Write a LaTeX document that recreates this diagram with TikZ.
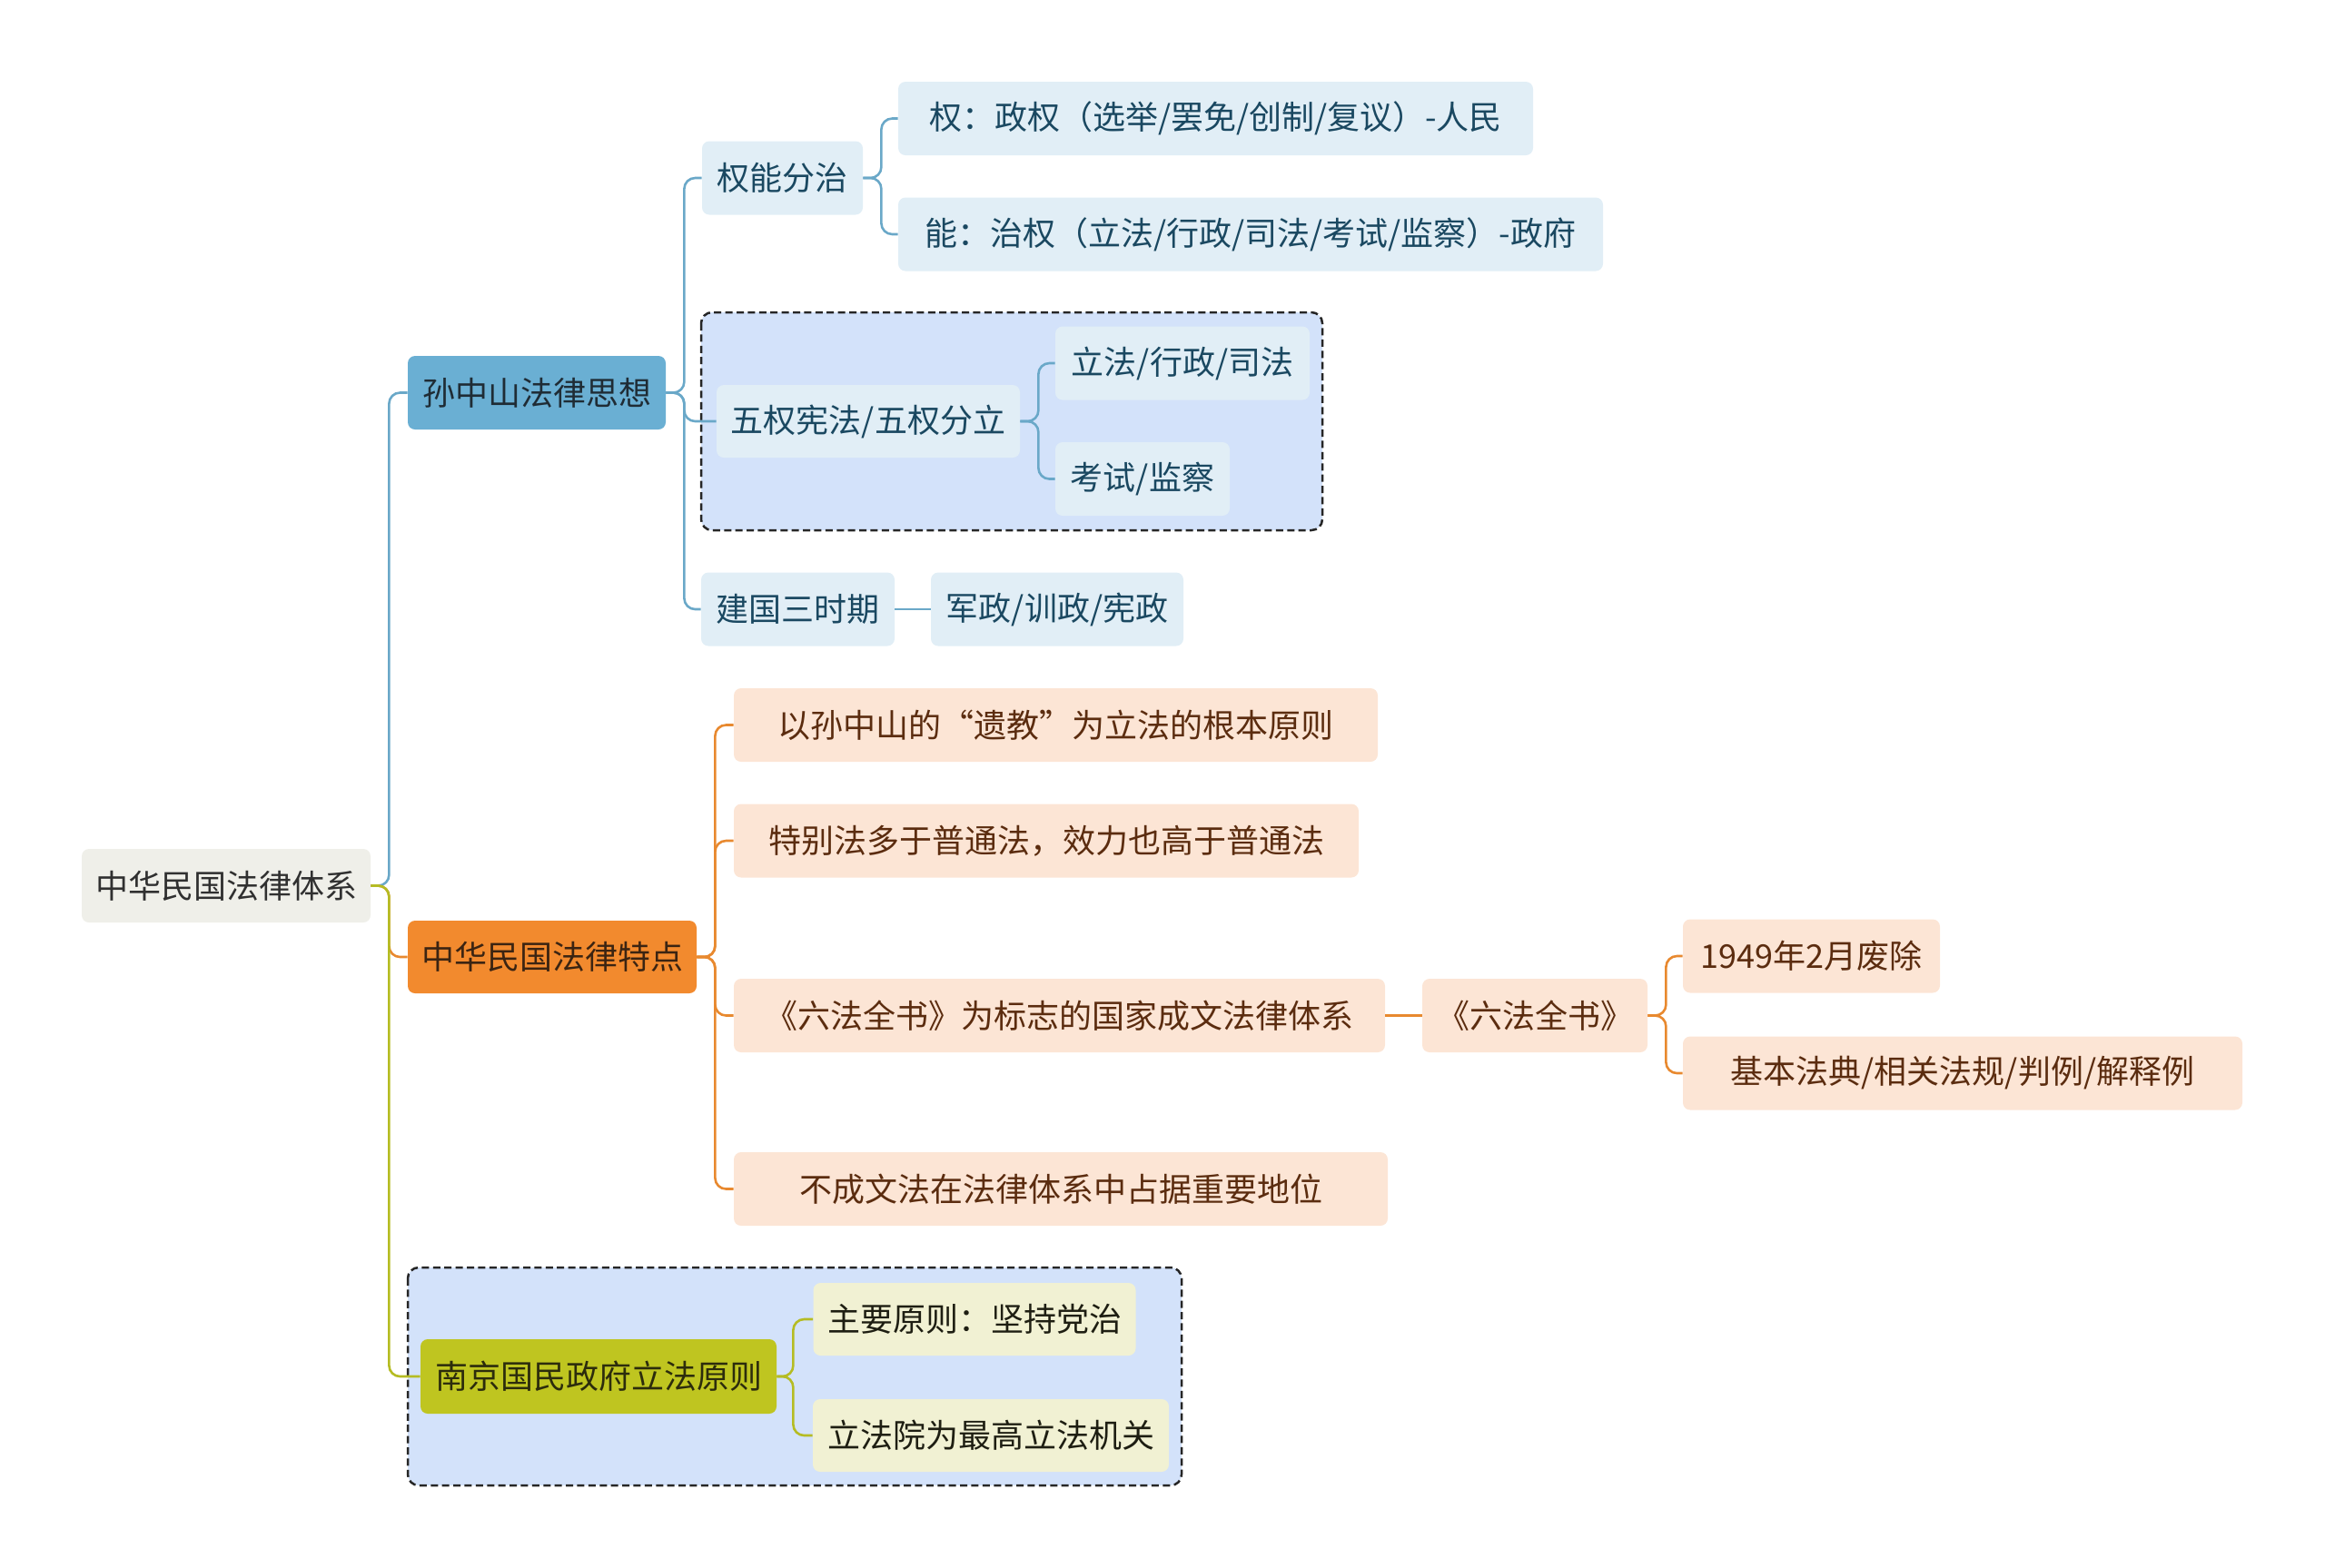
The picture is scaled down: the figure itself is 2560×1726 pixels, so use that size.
\documentclass[tikz,border=0pt]{standalone}
\usepackage{fontspec}
\setmainfont{Noto Sans CJK SC}
\newcommand\nodefont{\fontsize{18}{21.5}\selectfont}
\definecolor{rootfill}{HTML}{EFEFE9}
\definecolor{roottext}{HTML}{303030}
\definecolor{sunfill}{HTML}{6AAFD3}
\definecolor{suntext}{HTML}{1F2C35}
\definecolor{tdfill}{HTML}{F28A2E}
\definecolor{tdtext}{HTML}{3B2412}
\definecolor{njfill}{HTML}{BFC520}
\definecolor{njtext}{HTML}{2C2C0C}
\definecolor{bcfill}{HTML}{E1EEF6}
\definecolor{bctext}{HTML}{1A4861}
\definecolor{ocfill}{HTML}{FCE5D5}
\definecolor{octext}{HTML}{5B2C0F}
\definecolor{yfill}{HTML}{F1F1D3}
\definecolor{ytext}{HTML}{1E1E12}
\definecolor{grpfill}{HTML}{D3E2FA}
\definecolor{bline}{HTML}{6AA8C8}
\definecolor{oline}{HTML}{E8892F}
\definecolor{yline}{HTML}{B5BC23}
\tikzset{
  box/.style={rounded corners=4pt, inner sep=0pt, minimum height=40.5pt, font=\nodefont, align=center},
  rootn/.style={box, fill=rootfill, text=roottext},
  sunn/.style={box, fill=sunfill, text=suntext},
  tdn/.style={box, fill=tdfill, text=tdtext},
  njn/.style={box, fill=njfill, text=njtext},
  bcn/.style={box, fill=bcfill, text=bctext},
  ocn/.style={box, fill=ocfill, text=octext},
  ycn/.style={box, fill=yfill, text=ytext},
  grp/.style={draw=black!85, fill=grpfill, line width=1.25pt, dash pattern=on 4pt off 2.2pt, rounded corners=6pt},
  conn/.style={line width=1.3pt, rounded corners=6pt},
  bl/.style={conn, draw=bline},
  ol/.style={conn, draw=oline},
  yl/.style={conn, draw=yline},
}
\begin{document}
\begin{tikzpicture}[x=0.5pt, y=-0.5pt]
\useasboundingbox (0,0) rectangle (2560,1726);
% groups
\draw[grp] (772,344) rectangle (1456,584);
\draw[grp] (449,1396) rectangle (1301,1636);
% nodes
\node[rootn, minimum width=159pt] (root) at (249,975.5) {中华民国法律体系};
\node[sunn, minimum width=142pt] (sun) at (591,432.5) {孙中山法律思想};
\node[tdn, minimum width=159pt, minimum height=40pt] (td) at (608,1054) {中华民国法律特点};
\node[njn, minimum width=196pt, minimum height=41pt] (nj) at (659,1516) {南京国民政府立法原则};
\node[ycn, minimum width=177.5pt, minimum height=40pt] (zy) at (1073,1453) {主要原则：坚持党治};
\node[ycn, minimum width=196pt, minimum height=40pt] (lfy) at (1091,1581) {立法院为最高立法机关};
\node[bcn, minimum width=88.5pt] (qn) at (861.5,196) {权能分治};
\node[bcn, minimum width=349.5pt] (quan) at (1338.5,130.5) {权：政权（选举/罢免/创制/复议）-人民};
\node[bcn, minimum width=388pt] (neng) at (1377,258) {能：治权（立法/行政/司法/考试/监察）-政府};
\node[bcn, minimum width=167pt, minimum height=40pt] (wq) at (956,464) {五权宪法/五权分立};
\node[bcn, minimum width=140pt] (lf3) at (1302,400) {立法/行政/司法};
\node[bcn, minimum width=96pt] (ks) at (1258,527.5) {考试/监察};
\node[bcn, minimum width=106.5pt] (jg) at (878.5,671) {建国三时期};
\node[bcn, minimum width=139pt] (jz) at (1164,671) {军政/训政/宪政};
\node[ocn, minimum width=354.5pt] (yj) at (1162.5,798.5) {以孙中山的“遗教”为立法的根本原则};
\node[ocn, minimum width=344pt] (tb) at (1152,926) {特别法多于普通法，效力也高于普通法};
\node[ocn, minimum width=358.5pt] (lf1) at (1166.5,1118.5) {《六法全书》为标志的国家成文法律体系};
\node[ocn, minimum width=124pt] (lf2) at (1690,1118.5) {《六法全书》};
\node[ocn, minimum width=141.5pt] (y49) at (1994.5,1053) {1949年2月废除};
\node[ocn, minimum width=308pt] (jb) at (2161,1182) {基本法典/相关法规/判例/解释例};
\node[ocn, minimum width=360pt] (bc) at (1168,1309.5) {不成文法在法律体系中占据重要地位};
% connectors
\draw[bl] (root.east) -- ++(10pt,0) |- (sun.west);
\draw[ol] (root.east) -- ++(10pt,0) |- (td.west);
\draw[yl] (root.east) -- ++(10pt,0) |- (nj.west);
\draw[bl] (sun.east) -- ++(10pt,0) |- (qn.west);
\draw[bl] (sun.east) -- ++(10pt,0) |- (wq.west);
\draw[bl] (sun.east) -- ++(10pt,0) |- (jg.west);
\draw[bl] (qn.east) -- ++(10pt,0) |- (quan.west);
\draw[bl] (qn.east) -- ++(10pt,0) |- (neng.west);
\draw[bl] (wq.east) -- ++(10pt,0) |- (lf3.west);
\draw[bl] (wq.east) -- ++(10pt,0) |- (ks.west);
\draw[bl] (jg.east) -- (jz.west);
\draw[ol] (td.east) -- ++(10pt,0) |- (yj.west);
\draw[ol] (td.east) -- ++(10pt,0) |- (tb.west);
\draw[ol] (td.east) -- ++(10pt,0) |- (lf1.west);
\draw[ol] (td.east) -- ++(10pt,0) |- (bc.west);
\draw[ol] (lf1.east) -- (lf2.west);
\draw[ol] (lf2.east) -- ++(10pt,0) |- (y49.west);
\draw[ol] (lf2.east) -- ++(10pt,0) |- (jb.west);
\draw[yl] (nj.east) -- ++(9pt,0) |- (zy.west);
\draw[yl] (nj.east) -- ++(9pt,0) |- (lfy.west);
\end{tikzpicture}
\end{document}
